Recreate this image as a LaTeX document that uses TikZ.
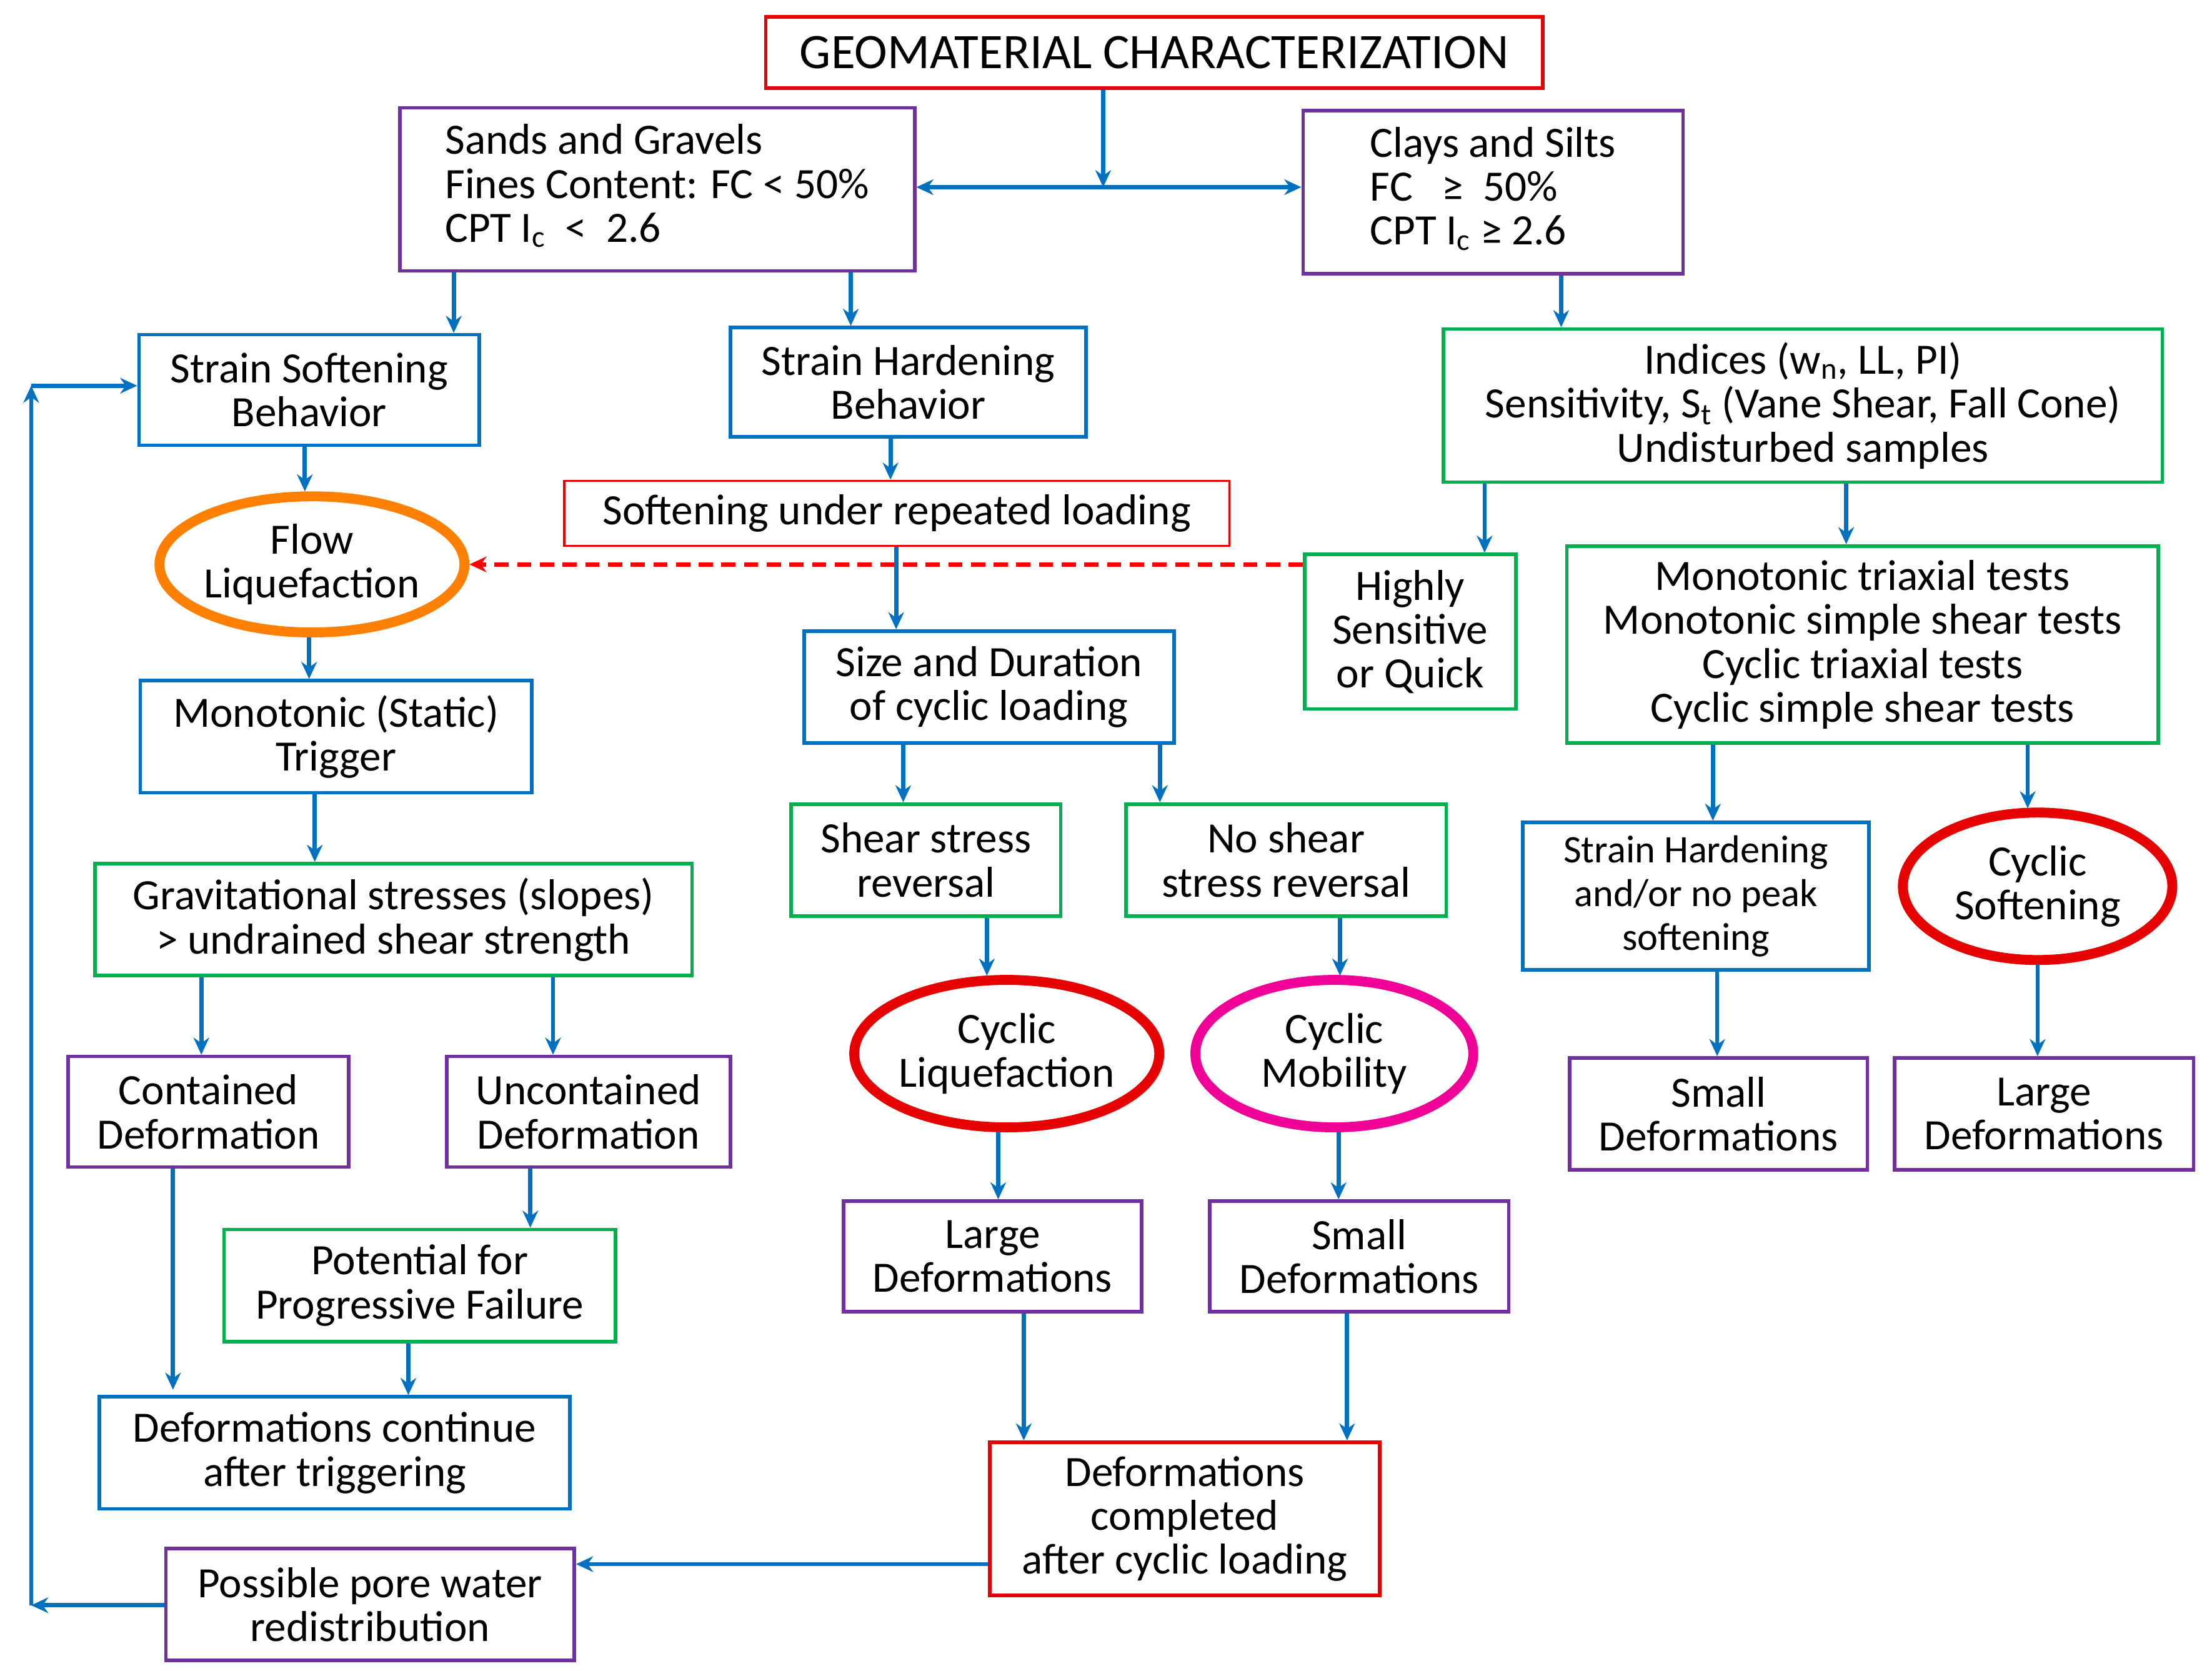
\documentclass[tikz,border=0pt]{standalone}
\usepackage{fontspec}
\setmainfont{Carlito}
\usetikzlibrary{arrows.meta,shapes.geometric}
\definecolor{cblue}{RGB}{0,112,192}
\definecolor{cgreen}{RGB}{0,176,80}
\definecolor{cpurple}{RGB}{112,48,160}
\definecolor{cred}{RGB}{230,0,0}
\definecolor{corange}{RGB}{255,128,0}
\definecolor{cmag}{RGB}{240,0,150}
\begin{document}
\begin{tikzpicture}[x=1pt,y=-1pt,
  box/.style={draw, line width=2.5pt, inner sep=0pt, align=center, font=\fontsize{30.5}{31}\selectfont},
  ell/.style={draw, ellipse, line width=7pt, inner sep=0pt, align=center, font=\fontsize{30.5}{31}\selectfont},
  ar/.style={draw=cblue, line width=3pt, -{Stealth[length=12pt,width=11pt]}}]
\useasboundingbox[fill=white] (0,0) rectangle (1560,1178);
\newcommand{\bx}[7]{\node[box,draw=#6,minimum width=#3-#1,minimum height=#4-#2] (#5) at ({(#1+#3)/2},{(#2+#4)/2}) {#7};}
\bx{540}{12}{1088}{62}{top}{cred}{\fontsize{35}{31}\selectfont GEOMATERIAL CHARACTERIZATION}
\bx{282}{76}{645}{191}{sands}{cpurple}{\begin{tabular}{@{}l@{}}Sands and Gravels\\Fines Content: FC < 50\%\\CPT I$_\mathrm{c}$\ \ <\ \ 2.6\end{tabular}}
\bx{919}{78}{1187}{193}{clays}{cpurple}{\begin{tabular}{@{}l@{}}Clays and Silts\\FC\ \ \ ≥\ \ 50\%\\CPT I$_\mathrm{c}$ ≥ 2.6\end{tabular}}
\bx{98}{236}{338}{314}{ssb}{cblue}{Strain Softening\\Behavior}
\bx{515}{231}{766}{308}{shb}{cblue}{Strain Hardening\\Behavior}
\bx{1018}{232}{1525}{340}{ind}{cgreen}{Indices (w$_\mathrm{n}$, LL, PI)\\Sensitivity, S$_\mathrm{t}$ (Vane Shear, Fall Cone)\\Undisturbed samples}
\node[box,draw=cred,line width=1.5pt,minimum width=469,minimum height=46] (soft) at (632.5,362) {Softening under repeated loading};
\node[ell,draw=corange,minimum width=210,minimum height=96] (flow) at (220,398) {Flow\\Liquefaction};
\bx{920}{391}{1069}{500}{high}{cgreen}{Highly\\Sensitive\\or Quick}
\bx{1105}{385}{1522}{524}{mono}{cgreen}{Monotonic triaxial tests\\Monotonic simple shear tests\\Cyclic triaxial tests\\Cyclic simple shear tests}
\bx{567}{445}{828}{524}{size}{cblue}{Size and Duration\\of cyclic loading}
\bx{99}{480}{375}{559}{trig}{cblue}{Monotonic (Static)\\Trigger}
\bx{558}{567}{748}{646}{shr}{cgreen}{Shear stress\\reversal}
\bx{794}{567}{1020}{646}{nshr}{cgreen}{No shear\\stress reversal}
\bx{67}{609}{488}{688}{grav}{cgreen}{Gravitational stresses (slopes)\\> undrained shear strength}
\bx{1074}{580}{1318}{684}{sh2}{cblue}{\fontsize{27.5}{28}\selectfont Strain Hardening\\\fontsize{27.5}{28}\selectfont and/or no peak\\\fontsize{27.5}{28}\selectfont softening}
\node[ell,draw=cred,minimum width=190,minimum height=104] (csoft) at (1437,625) {Cyclic\\Softening};
\node[ell,draw=cred,minimum width=194,minimum height=104] (cliq) at (710,743) {Cyclic\\Liquefaction};
\node[ell,draw=cmag,minimum width=196,minimum height=104] (cmob) at (941,743) {Cyclic\\Mobility};
\bx{48}{745}{246}{823}{cont}{cpurple}{Contained\\Deformation}
\bx{315}{745}{515}{823}{uncont}{cpurple}{Uncontained\\Deformation}
\bx{1107}{746}{1317}{825}{smr}{cpurple}{Small\\Deformations}
\bx{1336}{746}{1547}{825}{lgr}{cpurple}{Large\\Deformations}
\bx{595}{847}{805}{925}{lgm}{cpurple}{Large\\Deformations}
\bx{853}{847}{1064}{925}{smm}{cpurple}{Small\\Deformations}
\bx{158}{867}{434}{946}{pot}{cgreen}{Potential for\\Progressive Failure}
\bx{70}{985}{402}{1064}{dcont}{cblue}{Deformations continue\\after triggering}
\bx{698}{1017}{973}{1125}{comp}{cred}{Deformations\\completed\\after cyclic loading}
\bx{117}{1092}{405}{1171}{pore}{cpurple}{Possible pore water\\redistribution}
\coordinate (j) at (778,132);
\coordinate (lb) at (22,1132);
\coordinate (lt) at (22,272);
% arrows
\draw[ar] (top.south -| j) -- (j);
\draw[ar,{Stealth[length=12pt,width=11pt]}-{Stealth[length=12pt,width=11pt]}] (sands.east |- j) -- (clays.west |- j);
\draw[ar] (sands.south -| 320,0) -- (ssb.north -| 320,0);
\draw[ar] (sands.south -| 600,0) -- (shb.north -| 600,0);
\draw[ar] (clays.south -| 1101,0) -- (ind.north -| 1101,0);
\draw[ar] (ssb.south -| 215,0) -- (flow.north -| 215,0);
\draw[ar] (shb.south -| 628,0) -- (soft.north -| 628,0);
\draw[ar] (soft.south -| 632,0) -- (size.north -| 632,0);
\draw[ar] (flow.south -| 218,0) -- (trig.north -| 218,0);
\draw[ar] (ind.south -| 1047,0) -- (high.north -| 1047,0);
\draw[ar] (ind.south -| 1302,0) -- (mono.north -| 1302,0);
\draw[ar,draw=red,dashed,dash pattern=on 10pt off 6pt] (high.west |- 0,398) -- (flow.east);
\draw[ar] (size.south -| 637,0) -- (shr.north -| 637,0);
\draw[ar] (size.south -| 818,0) -- (nshr.north -| 818,0);
\draw[ar] (trig.south -| 222,0) -- (grav.north -| 222,0);
\draw[ar] (mono.south -| 1208,0) -- (sh2.north -| 1208,0);
\draw[ar] (mono.south -| 1430,0) -- (1430,570);
\draw[ar] (shr.south -| 696,0) -- (696,688);
\draw[ar] (nshr.south -| 945,0) -- (945,688);
\draw[ar] (grav.south -| 142,0) -- (cont.north -| 142,0);
\draw[ar] (grav.south -| 390,0) -- (uncont.north -| 390,0);
\draw[ar] (sh2.south -| 1211,0) -- (smr.north -| 1211,0);
\draw[ar] (1437,680) -- (lgr.north -| 1437,0);
\draw[ar] (704,798) -- (lgm.north -| 704,0);
\draw[ar] (944,798) -- (smm.north -| 944,0);
\draw[ar] (cont.south -| 122,0) -- (122,980);
\draw[ar] (uncont.south -| 374,0) -- (pot.north -| 374,0);
\draw[ar] (pot.south -| 288,0) -- (dcont.north -| 288,0);
\draw[ar] (lgm.south -| 722,0) -- (comp.north -| 722,0);
\draw[ar] (smm.south -| 950,0) -- (comp.north -| 950,0);
\draw[ar] (comp.west |- 0,1103) -- (pore.east |- 0,1103);
\draw[ar] (pore.west |- lb) -- (lb);
\draw[ar] (lb) -- (lt);
\draw[ar] (lt) -- (ssb.west |- lt);
\end{tikzpicture}
\end{document}
